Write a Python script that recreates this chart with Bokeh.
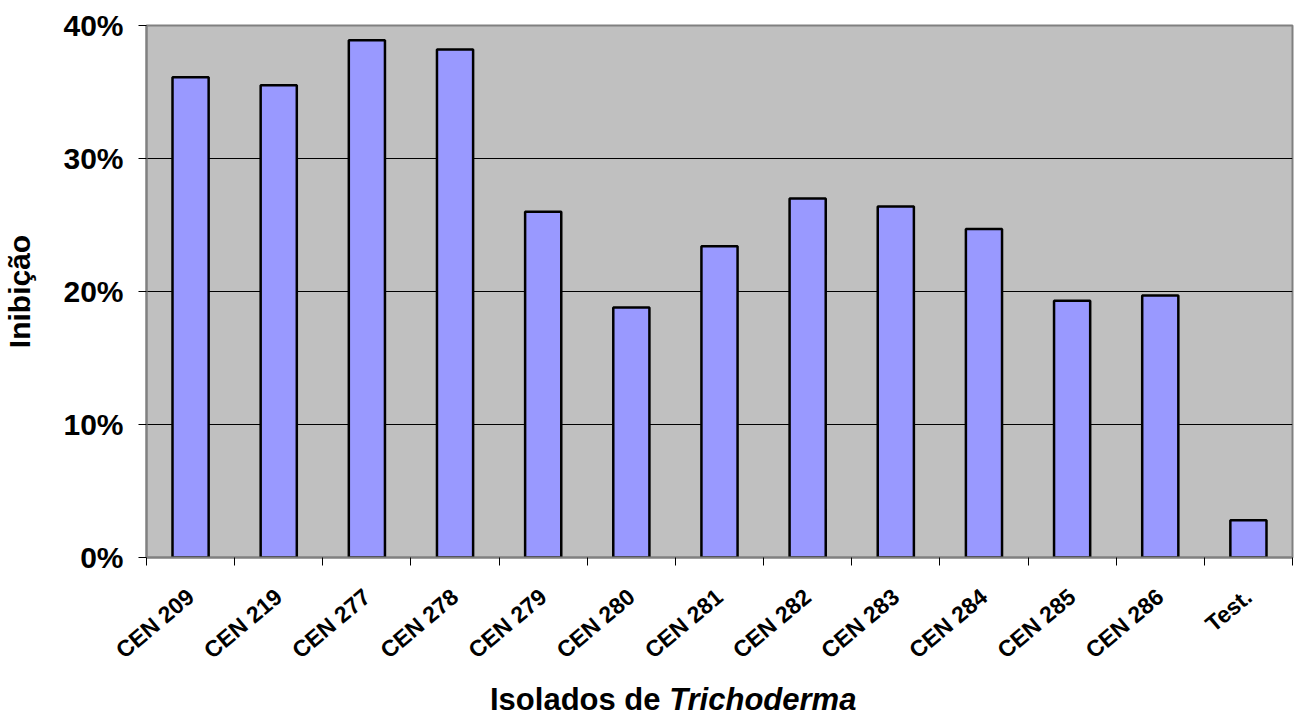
import math
from bokeh.plotting import figure
from bokeh.models import (Range1d, FixedTicker, NumeralTickFormatter,
                          CustomJSTickFormatter, Div)
from bokeh.layouts import column
from bokeh.embed import file_html
from bokeh.resources import INLINE

categories = ["CEN 209", "CEN 219", "CEN 277", "CEN 278", "CEN 279", "CEN 280",
              "CEN 281", "CEN 282", "CEN 283", "CEN 284", "CEN 285", "CEN 286", "Test."]
inhibition = [0.361, 0.355, 0.389, 0.382, 0.260, 0.188,
              0.234, 0.270, 0.264, 0.247, 0.193, 0.197, 0.028]
y_ticks = [0.0, 0.1, 0.2, 0.3, 0.4]
x_title_plain = "Isolados de"
x_title_italic = "Trichoderma"
y_title = "Inibição"

FONT = "Liberation Sans"
n = len(categories)
centers = [i + 0.5 for i in range(n)]

p = figure(frame_width=1146, frame_height=532,
           x_range=Range1d(0, n), y_range=Range1d(0, 0.40),
           output_backend="svg", toolbar_location=None,
           min_border_left=145, min_border_top=25, min_border_right=4, min_border_bottom=121)

p.background_fill_color = "#C0C0C0"
p.border_fill_color = "white"
p.outline_line_color = "#808080"
p.outline_line_width = 2

p.vbar(x=centers, top=inhibition, width=0.41, bottom=0,
       fill_color="#9999FF", line_color="black", line_width=2.5)

# y axis
yax = p.yaxis[0]
yax.ticker = FixedTicker(ticks=y_ticks)
yax.formatter = NumeralTickFormatter(format="0%")
yax.major_label_text_font = FONT
yax.major_label_text_font_style = "bold"
yax.major_label_text_font_size = "30px"
yax.major_label_text_color = "black"
yax.major_tick_out = 8
yax.major_tick_in = 0
yax.major_tick_line_color = "black"
yax.minor_tick_line_color = None
yax.major_label_standoff = 15
yax.axis_line_color = "#808080"
yax.axis_line_width = 2
yax.axis_label = y_title
yax.axis_label_text_font = FONT
yax.axis_label_text_font_style = "bold"
yax.axis_label_text_font_size = "30px"
yax.axis_label_text_color = "black"
yax.axis_label_standoff = 24

# x axis: labels at category centres, ticks at category boundaries
xax = p.xaxis[0]
xax.ticker = FixedTicker(ticks=centers, minor_ticks=list(range(n + 1)))
xax.formatter = CustomJSTickFormatter(args=dict(labels=categories),
                                      code="return labels[Math.floor(tick)];")
xax.major_tick_line_color = None
xax.major_tick_out = 8
xax.major_tick_in = 0
xax.minor_tick_line_color = "black"
xax.minor_tick_out = 8
xax.minor_tick_in = 0
xax.major_label_orientation = math.pi / 4.5
xax.major_label_text_font = FONT
xax.major_label_text_font_style = "bold"
xax.major_label_text_font_size = "23px"
xax.major_label_text_color = "black"
xax.major_label_standoff = 28
xax.axis_line_color = "#808080"
xax.axis_line_width = 2

p.xgrid.grid_line_color = None
p.ygrid.ticker = FixedTicker(ticks=y_ticks)
p.ygrid.grid_line_color = "black"
p.ygrid.grid_line_width = 1

title = Div(text=f"<b>{x_title_plain} <i>{x_title_italic}</i></b>",
            width=1295, height=36,
            styles={"font-family": FONT, "font-size": "31px", "color": "black",
                    "line-height": "34px", "padding-left": "485px", "white-space": "nowrap"})

layout = column(p, title, spacing=0)
open("out.html", "w").write(file_html(layout, INLINE))
